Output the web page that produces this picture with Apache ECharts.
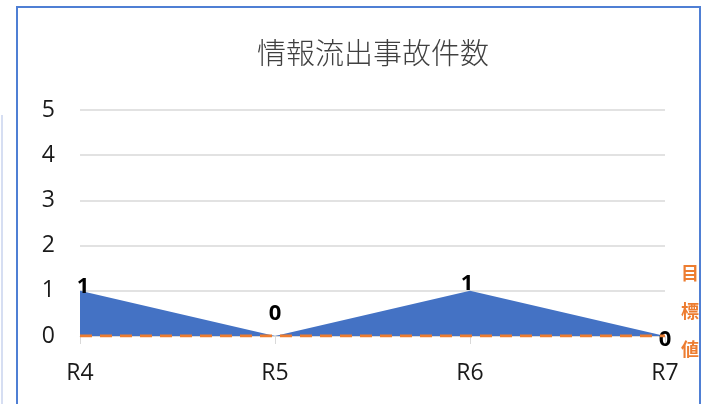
<!DOCTYPE html>
<html>
<head>
<meta charset="utf-8">
<script src="https://cdn.jsdelivr.net/npm/echarts@6/dist/echarts.min.js"></script>
<style>
  html, body { margin: 0; padding: 0; background: #fff; }
  #chartBox { width: 715px; height: 404px; }
</style>
</head>
<body>
<div id="chartBox"></div>
<script>
  // 年度
  var categories = ['R4', 'R5', 'R6', 'R7'];
  // 情報流出事故件数
  var incidents = [1, 0, 1, 0];
  // 目標値
  var targets = [0, 0, 0, 0];
  var yTicks = [0, 1, 2, 3, 4, 5];

  var chart = echarts.init(document.getElementById('chartBox'));

  // ラベル位置の微調整（Excel の配置に合わせる）
  var labelShift = [[3, 7], [0, -11], [-3, 4], [0, 4]];
  var incidentData = incidents.map(function (v, i) {
    if (i === incidents.length - 1) {
      return { value: v, label: { position: 'inside' } };
    }
    return v;
  });

  var option = {
    animation: false,
    backgroundColor: '#fff',
    title: {
      text: '情報流出事故件数',
      left: 252,
      top: 33,
      textStyle: {
        fontFamily: 'Noto Sans CJK JP',
        fontSize: 29,
        fontWeight: 300,
        color: '#404040'
      }
    },
    graphic: [
      {
        type: 'rect',
        shape: { x: 17, y: 7, width: 683, height: 420 },
        style: { fill: null, stroke: '#4F7FD4', lineWidth: 2 }
      },
      {
        type: 'line',
        shape: { x1: 2, y1: 115, x2: 2, y2: 404 },
        style: { stroke: '#D6DEF2', lineWidth: 2 }
      }
    ],
    grid: { left: 80, right: 50, top: 110, bottom: 68 },
    xAxis: {
      type: 'category',
      boundaryGap: false,
      data: categories,
      axisLine: { lineStyle: { color: '#D9D9D9', width: 1 } },
      axisTick: { show: true, length: 8, lineStyle: { color: '#D9D9D9' } },
      axisLabel: {
        margin: 26,
        fontFamily: 'Open Sans',
        fontSize: 23,
        color: '#1a1a1a'
      }
    },
    yAxis: {
      type: 'value',
      min: yTicks[0],
      max: yTicks[yTicks.length - 1],
      interval: 1,
      axisLine: { show: false },
      axisTick: { show: false },
      splitLine: { lineStyle: { color: '#D9D9D9', width: 1.5 } },
      axisLabel: {
        margin: 25,
        fontFamily: 'Open Sans',
        fontSize: 23,
        color: '#1a1a1a'
      }
    },
    series: [
      {
        name: '情報流出事故件数',
        type: 'line',
        data: incidentData,
        symbol: 'circle',
        symbolSize: 1,
        showSymbol: true,
        itemStyle: { color: 'rgba(0,0,0,0)' },
        lineStyle: { width: 0, color: '#4472C4' },
        areaStyle: { color: '#4472C4', opacity: 1 },
        label: {
          show: true,
          position: 'top',
          distance: 0,
          fontFamily: 'Open Sans',
          fontSize: 22,
          fontWeight: 'bold',
          color: '#000'
        },
        labelLayout: function (params) {
          var s = labelShift[params.dataIndex] || [0, 0];
          return { dx: s[0], dy: s[1], hideOverlap: false };
        },
        z: 2
      },
      {
        name: '目標値',
        type: 'line',
        data: targets,
        symbol: 'none',
        lineStyle: { color: '#ED7D31', width: 3, type: [12, 8] },
        endLabel: {
          show: true,
          formatter: '目\n標\n値',
          offset: [8, -25],
          lineHeight: 38,
          fontFamily: 'Noto Sans CJK JP',
          fontSize: 18,
          fontWeight: 'bold',
          color: '#ED7D31'
        },
        z: 3
      }
    ]
  };

  chart.setOption(option);
</script>
</body>
</html>
